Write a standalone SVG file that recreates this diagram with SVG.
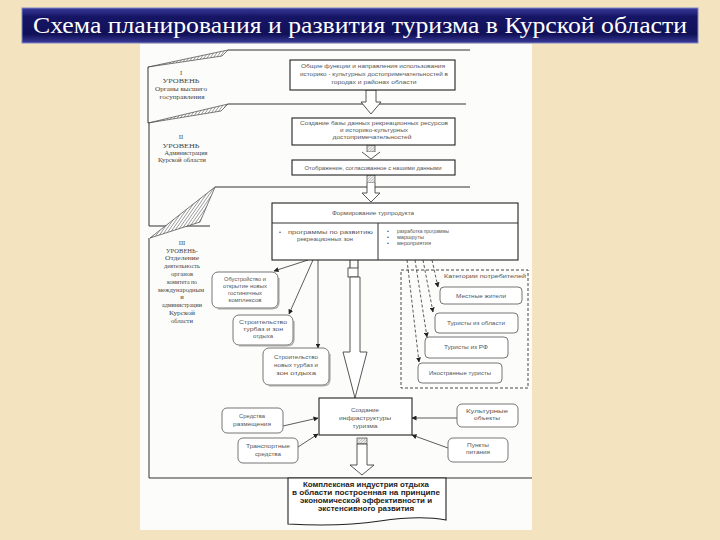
<svg xmlns="http://www.w3.org/2000/svg" width="720" height="540" viewBox="0 0 720 540">
<defs>
<linearGradient id="bar" x1="0" y1="0" x2="0" y2="1">
<stop offset="0" stop-color="#3a3a9a"/>
<stop offset="0.25" stop-color="#151565"/>
<stop offset="0.75" stop-color="#111158"/>
<stop offset="1" stop-color="#3a3a98"/>
</linearGradient>
<pattern id="hatch" width="2.5" height="2.5" patternUnits="userSpaceOnUse" patternTransform="rotate(35)">
<rect width="2.5" height="2.5" fill="#fff"/>
<line x1="0" y1="0" x2="0" y2="2.5" stroke="#444" stroke-width="0.9"/>
</pattern>
<pattern id="hatch2" width="2" height="2" patternUnits="userSpaceOnUse" patternTransform="rotate(45)">
<rect width="2" height="2" fill="#fff"/>
<line x1="0" y1="0" x2="0" y2="2" stroke="#555" stroke-width="0.8"/>
</pattern>
<marker id="ah" viewBox="0 0 10 10" refX="9" refY="5" markerWidth="5" markerHeight="5" orient="auto" markerUnits="userSpaceOnUse">
<path d="M0,0 L10,5 L0,10 z" fill="#222"/>
</marker>
<style>
.ln{stroke:#333;stroke-width:1;fill:none}
.bx{fill:#fff;stroke:#222;stroke-width:1.1}
.rb{fill:#fff;stroke:#666;stroke-width:0.9}
.sd{fill:none;stroke:#aaa;stroke-width:1.2}
.t{font-family:"Liberation Sans",Arial,sans-serif;font-size:5.6px;fill:#555;text-anchor:middle}
.tl{font-family:"Liberation Sans",Arial,sans-serif;font-size:5.6px;fill:#555}
.lv{font-family:"Liberation Serif","Times New Roman",serif;font-size:6.6px;fill:#444;text-anchor:middle}
.tb{font-family:"Liberation Sans",Arial,sans-serif;font-size:6.4px;fill:#222;text-anchor:middle;font-weight:bold}
.ar{stroke:#333;stroke-width:0.8;fill:none;marker-end:url(#ah)}
.da{stroke:#333;stroke-width:0.8;fill:none;stroke-dasharray:3 2;marker-end:url(#ah)}
.blk{fill:#fff;stroke:#444;stroke-width:0.9}
</style>
</defs>

<rect width="720" height="540" fill="#f5e7c5"/>
<rect x="0" y="0" width="720" height="540" fill="#efdcb0" opacity="0.25"/>

<g id="title">
<rect x="22" y="8" width="676" height="35" fill="url(#bar)" stroke="#7f86c8" stroke-width="1"/>
<text x="360" y="33" font-family="Liberation Serif,'Times New Roman',serif" font-size="24" fill="#fff" text-anchor="middle" textLength="654" lengthAdjust="spacingAndGlyphs">Схема планирования и развития туризма в Курской области</text>
</g>

<rect id="paper" x="140" y="44" width="392" height="486" fill="#fcfcfa"/>

<g id="levels">
<polygon points="148,67 228,50 222,56" fill="url(#hatch)" stroke="#444" stroke-width="0.7"/>
<line class="ln" x1="228" y1="50" x2="470" y2="50"/>
<polygon points="148,123 228,104 221,111" fill="url(#hatch)" stroke="#444" stroke-width="0.7"/>
<line class="ln" x1="228" y1="104" x2="466" y2="104"/>
<line class="ln" x1="148" y1="67" x2="148" y2="123"/>
<line class="ln" x1="149" y1="123" x2="149" y2="226"/>
<line class="ln" x1="149" y1="226" x2="210" y2="226"/>
<polygon points="150,238 215,187 200,222" fill="url(#hatch)" stroke="#444" stroke-width="0.7"/>
<line class="ln" x1="215" y1="187" x2="470" y2="187"/>
<line class="ln" x1="149" y1="238" x2="149" y2="478"/>
<line class="ln" x1="149" y1="478" x2="532" y2="478"/>
<text class="lv" x="181" y="75">I</text>
<text class="lv" x="181" y="83" textLength="37" lengthAdjust="spacingAndGlyphs">УРОВЕНЬ</text>
<text class="lv" x="181" y="91" textLength="52" lengthAdjust="spacingAndGlyphs">Органы высшего</text>
<text class="lv" x="182" y="99" textLength="45" lengthAdjust="spacingAndGlyphs">госуправления</text>
<text class="lv" x="181" y="139">II</text>
<text class="lv" x="181" y="148" textLength="37" lengthAdjust="spacingAndGlyphs">УРОВЕНЬ</text>
<text class="lv" x="186" y="155" textLength="43" lengthAdjust="spacingAndGlyphs">Администрация</text>
<text class="lv" x="182" y="162" textLength="48" lengthAdjust="spacingAndGlyphs">Курской области</text>
<text class="lv" x="182" y="245">III</text>
<text class="lv" x="182" y="253" textLength="32" lengthAdjust="spacingAndGlyphs">УРОВЕНЬ-</text>
<text class="lv" x="182" y="260" textLength="34" lengthAdjust="spacingAndGlyphs">Отделение</text>
<text class="lv" x="182" y="268" textLength="36" lengthAdjust="spacingAndGlyphs">деятельность</text>
<text class="lv" x="182" y="276" textLength="22" lengthAdjust="spacingAndGlyphs">органов</text>
<text class="lv" x="182" y="284" textLength="30" lengthAdjust="spacingAndGlyphs">комитета по</text>
<text class="lv" x="181" y="292" textLength="46" lengthAdjust="spacingAndGlyphs">международным</text>
<text class="lv" x="182" y="299">и</text>
<text class="lv" x="182" y="307" textLength="40" lengthAdjust="spacingAndGlyphs">администрации</text>
<text class="lv" x="182" y="315" textLength="26" lengthAdjust="spacingAndGlyphs">Курской</text>
<text class="lv" x="182" y="323" textLength="22" lengthAdjust="spacingAndGlyphs">области</text>
</g>

<g id="connectors">
<path class="blk" d="M366,90 V102 H361 L371,114 L381,102 H376 V90 Z"/>
<rect x="367" y="145" width="8" height="7" fill="url(#hatch2)" stroke="#444" stroke-width="0.7"/>
<path class="blk" d="M362,152 L371,159 L380,152"/>
<rect x="367" y="175" width="8" height="8" fill="url(#hatch2)" stroke="#444" stroke-width="0.7"/>
<path class="blk" d="M367,183 V193 H362 L371,202 L380,193 H375 V183"/>
<line class="ln" x1="350" y1="260" x2="350" y2="268"/>
<line class="ln" x1="358" y1="260" x2="358" y2="268"/>
<rect x="348" y="268" width="10" height="9" fill="#fff" stroke="#444" stroke-width="0.9"/>
<path class="blk" d="M350,277 V352 H343 L355,398 L367,352 H360 V277 Z"/>
<rect x="357" y="438" width="10" height="6" fill="url(#hatch2)" stroke="#444" stroke-width="0.7"/>
<path class="blk" d="M357,444 V465 H350 L362,475 L374,465 H367 V444 Z"/>
<line class="ar" x1="308" y1="260" x2="274" y2="271"/>
<line class="ar" x1="313" y1="260" x2="289" y2="314"/>
<line class="ar" x1="318" y1="260" x2="318" y2="348"/>
<line class="da" x1="432" y1="260" x2="438" y2="287"/>
<line class="da" x1="423" y1="260" x2="433" y2="312"/>
<line class="da" x1="415" y1="260" x2="427" y2="337"/>
<line class="da" x1="407" y1="260" x2="419" y2="362"/>
<line class="ar" x1="283" y1="426" x2="318" y2="418"/>
<line class="ar" x1="298" y1="447" x2="318" y2="434"/>
<line class="ar" x1="457" y1="418" x2="412" y2="418"/>
<line class="ar" x1="448" y1="448" x2="412" y2="435"/>
</g>

<g id="n-obshie">
<rect class="bx" x="290" y="60" width="165" height="30"/>
<text class="t" x="373" y="68" textLength="144" lengthAdjust="spacingAndGlyphs">Общие функции и направления использования</text>
<text class="t" x="374" y="76" textLength="148" lengthAdjust="spacingAndGlyphs">историко - культурных достопримечательностей в</text>
<text class="t" x="374" y="84" textLength="85" lengthAdjust="spacingAndGlyphs">городах и районах области</text>
</g>

<g id="n-baza">
<rect class="bx" x="292" y="118" width="163" height="27"/>
<text class="t" x="374" y="125" textLength="148" lengthAdjust="spacingAndGlyphs">Создание базы данных рекреационных ресурсов</text>
<text class="t" x="374" y="132" textLength="68" lengthAdjust="spacingAndGlyphs">и историко-культурных</text>
<text class="t" x="372" y="139" textLength="79" lengthAdjust="spacingAndGlyphs">достопримечательностей</text>
</g>

<g id="n-otobr">
<rect class="bx" x="292" y="160" width="163" height="15"/>
<text class="t" x="373" y="170" textLength="137" lengthAdjust="spacingAndGlyphs">Отображение, согласованное с нашими данными</text>
</g>

<g id="n-form">
<rect class="bx" x="272" y="203" width="246" height="57" stroke-width="1.3"/>
<line class="ln" x1="272" y1="223" x2="518" y2="223"/>
<line class="ln" x1="378" y1="223" x2="378" y2="260"/>
<text class="t" x="373" y="215" textLength="82" lengthAdjust="spacingAndGlyphs">Формирование турпродукта</text>
<text class="tl" x="279" y="234">•</text>
<text class="tl" x="288" y="234" textLength="85" lengthAdjust="spacingAndGlyphs">программы по развитию</text>
<text class="tl" x="297" y="241" textLength="56" lengthAdjust="spacingAndGlyphs">рекреационных зон</text>
<text class="tl" x="387" y="233">•</text>
<text class="tl" x="397" y="233" textLength="52" lengthAdjust="spacingAndGlyphs">разработка программы</text>
<text class="tl" x="387" y="239">•</text>
<text class="tl" x="397" y="239" textLength="27" lengthAdjust="spacingAndGlyphs">маршруты</text>
<text class="tl" x="387" y="245">•</text>
<text class="tl" x="397" y="245" textLength="34" lengthAdjust="spacingAndGlyphs">мероприятия</text>
</g>

<g id="n-obustr">
<path class="sd" d="M279,278 V302 Q279,309 272,309 H218"/>
<rect class="rb" x="212" y="272" width="66" height="36" rx="6"/>
<text class="t" x="245" y="281" textLength="42" lengthAdjust="spacingAndGlyphs">Обустройство и</text>
<text class="t" x="245" y="288" textLength="44" lengthAdjust="spacingAndGlyphs">открытие новых</text>
<text class="t" x="245" y="295" textLength="34" lengthAdjust="spacingAndGlyphs">гостиничных</text>
<text class="t" x="245" y="302" textLength="33" lengthAdjust="spacingAndGlyphs">комплексов</text>
</g>

<g id="n-stroit1">
<path class="sd" d="M294,321 V339 Q294,346 287,346 H239"/>
<rect class="rb" x="233" y="315" width="60" height="30" rx="6"/>
<text class="t" x="263" y="324" textLength="48" lengthAdjust="spacingAndGlyphs">Строительство</text>
<text class="t" x="263" y="331" textLength="40" lengthAdjust="spacingAndGlyphs">турбаз и зон</text>
<text class="t" x="263" y="338" textLength="20" lengthAdjust="spacingAndGlyphs">отдыха</text>
</g>

<g id="n-stroit2">
<path class="sd" d="M330,354 V379 Q330,386 323,386 H269"/>
<rect class="rb" x="263" y="348" width="66" height="37" rx="6"/>
<text class="t" x="296" y="359" textLength="44" lengthAdjust="spacingAndGlyphs">Строительство</text>
<text class="t" x="296" y="367" textLength="44" lengthAdjust="spacingAndGlyphs">новых турбаз и</text>
<text class="t" x="296" y="375" textLength="40" lengthAdjust="spacingAndGlyphs">зон отдыха</text>
</g>

<g id="n-kateg">
<rect x="401" y="270" width="127" height="118" fill="none" stroke="#333" stroke-width="0.9" stroke-dasharray="3 2"/>
<text class="t" x="485" y="278" textLength="82" lengthAdjust="spacingAndGlyphs">Категории потребителей</text>
</g>
<g id="n-mestn">
<rect class="rb" x="440" y="287" width="82" height="17" rx="4"/>
<text class="t" x="481" y="298" textLength="50" lengthAdjust="spacingAndGlyphs">Местные жители</text>
</g>
<g id="n-obl">
<rect class="rb" x="435" y="313" width="83" height="20" rx="4"/>
<text class="t" x="476" y="325" textLength="58" lengthAdjust="spacingAndGlyphs">Туристы из области</text>
</g>
<g id="n-rf">
<rect class="rb" x="425" y="337" width="83" height="21" rx="4"/>
<text class="t" x="466" y="349" textLength="44" lengthAdjust="spacingAndGlyphs">Туристы из РФ</text>
</g>
<g id="n-inostr">
<rect class="rb" x="418" y="363" width="84" height="20" rx="4"/>
<text class="t" x="460" y="375" textLength="62" lengthAdjust="spacingAndGlyphs">Иностранные туристы</text>
</g>

<g id="n-infra">
<rect class="bx" x="319" y="398" width="93" height="37"/>
<text class="t" x="365" y="412" textLength="28" lengthAdjust="spacingAndGlyphs">Создание</text>
<text class="t" x="365" y="420" textLength="52" lengthAdjust="spacingAndGlyphs">инфраструктуры</text>
<text class="t" x="365" y="428" textLength="25" lengthAdjust="spacingAndGlyphs">туризма</text>
</g>

<g id="n-sredstva">
<rect class="rb" x="222" y="408" width="61" height="25" rx="5"/>
<text class="t" x="252" y="418" textLength="26" lengthAdjust="spacingAndGlyphs">Средства</text>
<text class="t" x="252" y="426" textLength="38" lengthAdjust="spacingAndGlyphs">размещения</text>
</g>
<g id="n-transp">
<rect class="rb" x="238" y="438" width="60" height="25" rx="5"/>
<text class="t" x="268" y="448" textLength="44" lengthAdjust="spacingAndGlyphs">Транспортные</text>
<text class="t" x="268" y="456" textLength="26" lengthAdjust="spacingAndGlyphs">средства</text>
</g>
<g id="n-kult">
<rect class="rb" x="457" y="404" width="61" height="23" rx="5"/>
<text class="t" x="487" y="413" textLength="42" lengthAdjust="spacingAndGlyphs">Культурные</text>
<text class="t" x="487" y="420" textLength="26" lengthAdjust="spacingAndGlyphs">объекты</text>
</g>
<g id="n-pit">
<rect class="rb" x="448" y="438" width="60" height="24" rx="5"/>
<text class="t" x="478" y="447" textLength="22" lengthAdjust="spacingAndGlyphs">Пункты</text>
<text class="t" x="478" y="454" textLength="24" lengthAdjust="spacingAndGlyphs">питания</text>
</g>

<g id="n-kompl">
<path d="M288,478 H446 V520 Q420,515 380,521 T288,524 Z" fill="#fff" stroke="#222" stroke-width="1.1"/>
<text class="tb" x="366" y="487" textLength="126" lengthAdjust="spacingAndGlyphs">Комплексная индустрия отдыха</text>
<text class="tb" x="366" y="495" textLength="148" lengthAdjust="spacingAndGlyphs">в области построенная на принципе</text>
<text class="tb" x="366" y="503" textLength="132" lengthAdjust="spacingAndGlyphs">экономической эффективности и</text>
<text class="tb" x="366" y="511" textLength="96" lengthAdjust="spacingAndGlyphs">экстенсивного развития</text>
</g>
</svg>
